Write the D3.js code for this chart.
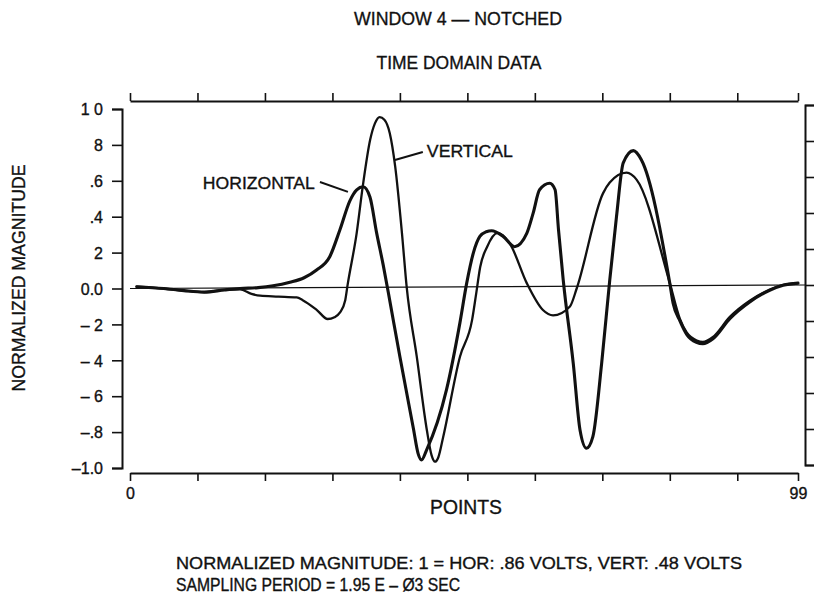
<!DOCTYPE html>
<html>
<head>
<meta charset="utf-8">
<script src="https://cdn.jsdelivr.net/npm/d3@7"></script>
<style>
  body { margin: 0; background: #fff; }
  svg { display: block; }
  text { font-family: "Liberation Sans", Arial, Helvetica, sans-serif; fill: #111; stroke: #111; stroke-width: 0.35px; }
</style>
</head>
<body>
<svg id="chart" width="814" height="597"></svg>
<script>
// ---------------- DATA ----------------
const horPoints = [1, 5, 8, 11, 14, 16.3, 19, 21.2, 23.7, 25.8, 27.65, 29.6, 31.1, 32.6, 33.6, 34.55, 35.56, 36.55, 37.53, 38.27,
  40.0, 42.0, 42.7, 43.2, 43.95, 46.9, 48.9, 49.9, 50.9, 51.85, 52.8, 53.6, 55.3, 57.0, 58.8, 59.75, 60.7, 62.2, 63.0, 63.5,
  64.2, 65.7, 66.7, 67.65, 68.6, 69.9, 71.1, 72.1, 73.1, 74.6, 75.8, 80.0, 80.5, 81.5, 82.5, 83.95, 84.9, 86.4, 88.9, 91.85,
  94.8, 96.8, 99];
const horValues = [0.01, 0.0, -0.012, -0.02, -0.008, 0.0, 0.005, 0.015, 0.035, 0.06, 0.103, 0.177, 0.326, 0.49, 0.55, 0.567, 0.51, 0.31, 0.13, -0.02,
  -0.38, -0.78, -0.92, -0.955, -0.9, -0.565, -0.19, 0.03, 0.2, 0.29, 0.316, 0.322, 0.29, 0.233, 0.307, 0.42, 0.55, 0.586, 0.55, 0.33,
  0.05, -0.42, -0.79, -0.89, -0.825, -0.417, 0.047, 0.4, 0.7, 0.768, 0.716, 0.029, -0.083, -0.18, -0.255, -0.3, -0.308, -0.28, -0.168, -0.075,
  -0.01, 0.018, 0.03];

const vertPoints = [1, 5, 8, 11, 14, 16.3, 18, 19.3, 22, 24.7, 25.6, 27.7, 29.3, 30.3, 31.1, 31.9, 32.25, 33.6, 34.5, 35.6,
  36.3, 37.0, 37.7, 38.5, 39.3, 40.3, 41.0, 42.5, 44.0, 44.7, 45.2, 45.7, 46.4, 48.9, 50.7, 51.3, 51.9, 52.9, 54.5, 56.3,
  58.8, 61.2, 62.7, 65.2, 66.2, 70.1, 71.1, 73.6, 75.1, 80.0, 81.5, 82.5, 84.0, 84.9, 86.4, 88.9, 91.85, 94.8, 96.8, 99];
const vertValues = [0.01, 0.0, -0.012, -0.02, -0.008, -0.005, -0.03, -0.04, -0.045, -0.05, -0.065, -0.12, -0.17, -0.16, -0.135, -0.065, 0.02, 0.31, 0.57, 0.83,
  0.92, 0.955, 0.94, 0.865, 0.68, 0.31, 0.01, -0.38, -0.79, -0.93, -0.965, -0.94, -0.83, -0.38, -0.175, -0.03, 0.12, 0.23, 0.31, 0.25,
  0.03, -0.12, -0.15, -0.1, 0.0, 0.53, 0.59, 0.645, 0.605, 0.03, -0.17, -0.245, -0.29, -0.298, -0.27, -0.158, -0.068, -0.006, 0.02, 0.03];

const xTickValues = [0, 10, 20, 30, 40, 50, 60, 70, 80, 90, 99];
const xTickLabels = ["0", "", "", "", "", "", "", "", "", "", "99"];
const yTickValues = [1, 0.8, 0.6, 0.4, 0.2, 0, -0.2, -0.4, -0.6, -0.8, -1];
const yTickLabels = ["1 0", "8", ".6", ".4", "2", "0.0", "– 2", "– 4", "– 6", "–.8", "–1.0"];

const titleText = "WINDOW 4 — NOTCHED";
const subtitleText = "TIME DOMAIN DATA";
const xTitle = "POINTS";
const yTitle = "NORMALIZED MAGNITUDE";
const footLines = ["NORMALIZED MAGNITUDE: 1 = HOR: .86 VOLTS, VERT: .48 VOLTS", "SAMPLING PERIOD = 1.95 E – Ø3 SEC"];
const seriesNames = ["HORIZONTAL", "VERTICAL"];

// ---------------- LAYOUT ----------------
const svg = d3.select("#chart");
const x = d3.scaleLinear().domain([0, 99]).range([130, 798]);
const yL = d3.scaleLinear().domain([-1, 1]).range([468, 109]);
const yR = d3.scaleLinear().domain([-1, 1]).range([465, 105]);

const ink = "#111";

function styleAxis(g, w) {
  g.attr("font-family", null).attr("font-size", null);
  g.selectAll("path.domain").attr("stroke", ink).attr("stroke-width", w);
  g.selectAll(".tick line").attr("stroke", ink).attr("stroke-width", 1.6);
}

// left axis
const gL = svg.append("g").attr("transform", "translate(122,0)")
  .call(d3.axisLeft(yL).tickValues(yTickValues).tickSize(10).tickSizeOuter(10).tickPadding(9)
    .tickFormat((d, i) => yTickLabels[i]));
styleAxis(gL, 2);
gL.selectAll(".tick text").attr("font-size", 16).attr("fill", ink).attr("dy", "0.36em");

// right axis
const gR = svg.append("g").attr("transform", "translate(805,0)")
  .call(d3.axisRight(yR).tickValues(yTickValues).tickSize(9).tickSizeOuter(9).tickFormat(""));
styleAxis(gR, 2);

// bottom axis
const gB = svg.append("g").attr("transform", "translate(0,473)")
  .call(d3.axisBottom(x).tickValues(xTickValues).tickSize(8).tickSizeOuter(0).tickPadding(7)
    .tickFormat((d, i) => xTickLabels[i]));
styleAxis(gB, 2);
gB.selectAll(".tick text").attr("font-size", 16).attr("fill", ink);

// top axis
const gT = svg.append("g").attr("transform", "translate(0,101)")
  .call(d3.axisTop(x).tickValues(xTickValues).tickSize(8).tickSizeOuter(0).tickFormat(""));
styleAxis(gT, 2);

// zero line
svg.append("line")
  .attr("x1", x(0)).attr("y1", yL(0))
  .attr("x2", 805).attr("y2", yR(0))
  .attr("stroke", ink).attr("stroke-width", 1.2);

// curves
const line = d3.line().x(d => x(d[0])).y(d => yL(d[1])).curve(d3.curveMonotoneX);
const horData = horPoints.map((p, i) => [p, horValues[i]]);
const vertData = vertPoints.map((p, i) => [p, vertValues[i]]);

svg.append("path").datum(vertData).attr("d", line)
  .attr("fill", "none").attr("stroke", ink).attr("stroke-width", 2.3)
  .attr("stroke-linejoin", "round").attr("stroke-linecap", "round");
svg.append("path").datum(horData).attr("d", line)
  .attr("fill", "none").attr("stroke", ink).attr("stroke-width", 3.1)
  .attr("stroke-linejoin", "round").attr("stroke-linecap", "round");

// series labels with leaders
svg.append("text").attr("x", x(27.4)).attr("y", yL(0.552)).attr("text-anchor", "end")
  .attr("font-size", 17).attr("textLength", 112).attr("lengthAdjust", "spacingAndGlyphs")
  .text(seriesNames[0]);
svg.append("line").attr("x1", x(28.15)).attr("y1", yL(0.593)).attr("x2", x(32.3)).attr("y2", yL(0.538))
  .attr("stroke", ink).attr("stroke-width", 2);

svg.append("text").attr("x", x(44.0)).attr("y", yL(0.733)).attr("text-anchor", "start")
  .attr("font-size", 17).attr("textLength", 86).attr("lengthAdjust", "spacingAndGlyphs")
  .text(seriesNames[1]);
svg.append("line").attr("x1", x(39.26)).attr("y1", yL(0.716)).attr("x2", x(43.4)).attr("y2", yL(0.76))
  .attr("stroke", ink).attr("stroke-width", 2);

// titles
svg.append("text").attr("x", 458).attr("y", 25).attr("text-anchor", "middle")
  .attr("font-size", 19).attr("textLength", 208).attr("lengthAdjust", "spacingAndGlyphs").text(titleText);
svg.append("text").attr("x", 459).attr("y", 69).attr("text-anchor", "middle")
  .attr("font-size", 19).attr("textLength", 165).attr("lengthAdjust", "spacingAndGlyphs").text(subtitleText);

// axis titles
svg.append("text").attr("x", 466).attr("y", 514).attr("text-anchor", "middle")
  .attr("font-size", 20).attr("textLength", 72).attr("lengthAdjust", "spacingAndGlyphs").text(xTitle);
svg.append("text").attr("transform", "translate(25,278) rotate(-90)").attr("text-anchor", "middle")
  .attr("font-size", 19).attr("textLength", 227).attr("lengthAdjust", "spacingAndGlyphs").text(yTitle);

// footnotes
svg.append("text").attr("x", 176).attr("y", 569).attr("font-size", 17)
  .attr("textLength", 566).attr("lengthAdjust", "spacingAndGlyphs").text(footLines[0]);
svg.append("text").attr("x", 176).attr("y", 591).attr("font-size", 17.5)
  .attr("textLength", 284).attr("lengthAdjust", "spacingAndGlyphs").text(footLines[1]);
</script>
</body>
</html>
